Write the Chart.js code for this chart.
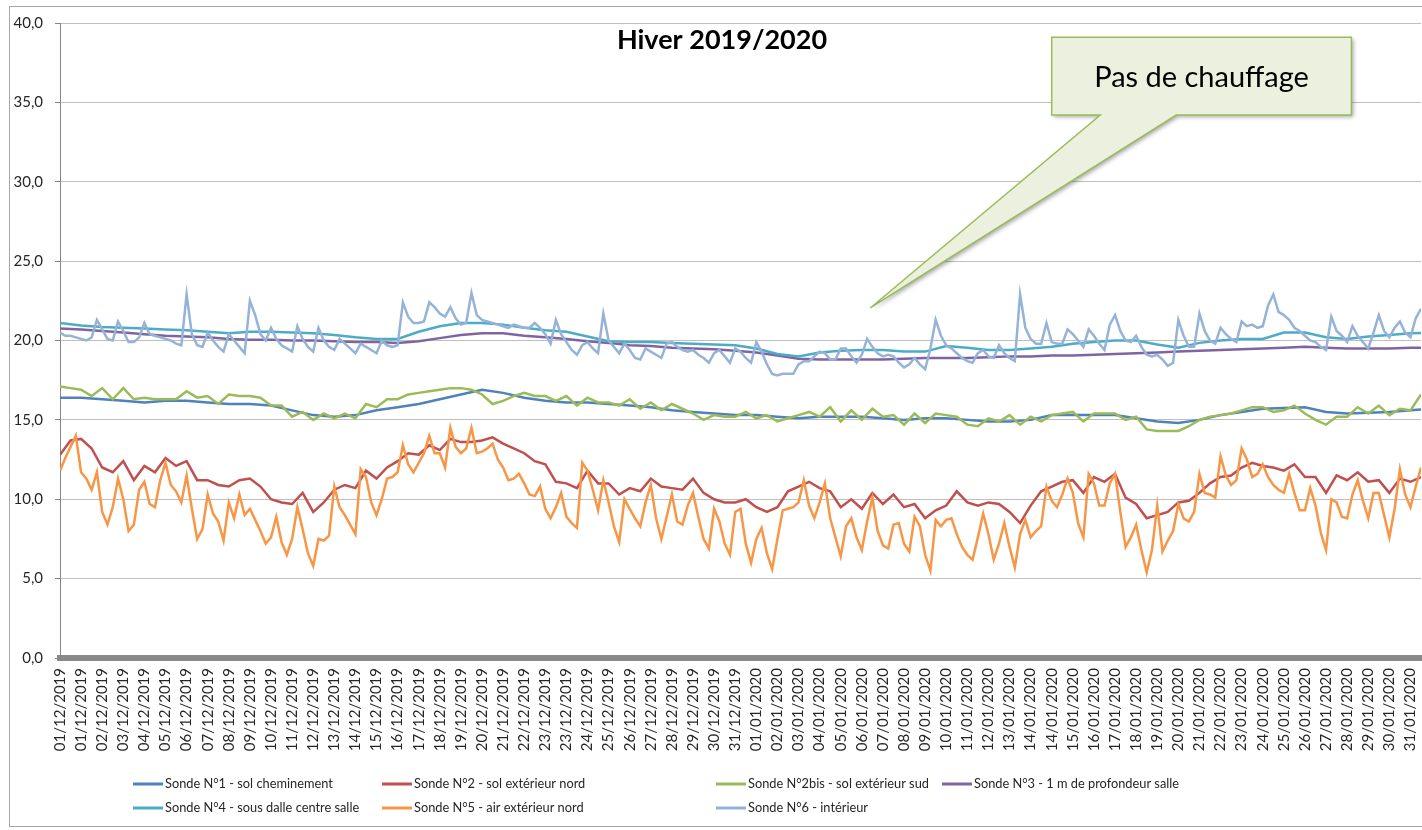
<!DOCTYPE html>
<html lang="fr">
<head>
<meta charset="utf-8">
<title>Hiver 2019/2020</title>
<script src="https://cdn.jsdelivr.net/npm/chart.js@4.4.1/dist/chart.umd.min.js"></script>
<style>
    html, body { margin: 0; padding: 0; background: #fff; }
    canvas { display: block; }
</style>
</head>
<body>
<canvas id="myChart" width="1422" height="830"></canvas>
<script>
'use strict';

// x axis labels (one every ~day, as shown by the spreadsheet)
let categories = ['01/12/2019', '01/12/2019', '02/12/2019', '03/12/2019', '04/12/2019', '05/12/2019', '06/12/2019', '07/12/2019',
    '08/12/2019', '09/12/2019', '10/12/2019', '11/12/2019', '12/12/2019', '13/12/2019', '14/12/2019', '15/12/2019',
    '16/12/2019', '17/12/2019', '18/12/2019', '19/12/2019', '20/12/2019', '21/12/2019', '22/12/2019', '23/12/2019',
    '23/12/2019', '24/12/2019', '25/12/2019', '26/12/2019', '27/12/2019', '28/12/2019', '29/12/2019', '30/12/2019',
    '31/12/2019', '01/01/2020', '02/01/2020', '03/01/2020', '04/01/2020', '05/01/2020', '06/01/2020', '07/01/2020',
    '08/01/2020', '09/01/2020', '10/01/2020', '11/01/2020', '12/01/2020', '13/01/2020', '14/01/2020', '14/01/2020',
    '15/01/2020', '16/01/2020', '17/01/2020', '18/01/2020', '19/01/2020', '20/01/2020', '21/01/2020', '22/01/2020',
    '23/01/2020', '24/01/2020', '25/01/2020', '26/01/2020', '27/01/2020', '28/01/2020', '29/01/2020', '30/01/2020',
    '31/01/2020'];

let yTickLabels = ['0,0', '5,0', '10,0', '15,0', '20,0', '25,0', '30,0', '35,0', '40,0'];

let seriesNames = ['Sonde N°1 - sol cheminement', 'Sonde N°2 - sol extérieur nord', 'Sonde N°2bis - sol extérieur sud',
    'Sonde N°3 - 1 m de profondeur salle', 'Sonde N°4 - sous dalle centre salle', 'Sonde N°5 - air extérieur nord',
    'Sonde N°6 - intérieur'];

// one value per label
let sonde1 = [16.4, 16.4, 16.3, 16.2, 16.1, 16.2, 16.2, 16.1, 16.0, 16.0, 15.9, 15.6, 15.3, 15.2, 15.3, 15.6, 15.8,
    16.0, 16.3, 16.6, 16.9, 16.7, 16.4, 16.2, 16.1, 16.1, 16.0, 15.9, 15.8, 15.6, 15.5, 15.4, 15.3,
    15.3, 15.2, 15.1, 15.2, 15.2, 15.2, 15.1, 15.0, 15.1, 15.1, 15.0, 14.9, 14.9, 15.0, 15.3, 15.3,
    15.3, 15.3, 15.1, 14.9, 14.8, 15.0, 15.3, 15.5, 15.7, 15.75, 15.8, 15.5, 15.4, 15.45, 15.5, 15.6, 15.7];

// two values per label
let sonde2 = [12.8, 13.7, 13.8, 13.2, 12.0, 11.7, 12.4, 11.2, 12.1, 11.7, 12.6, 12.1, 12.4, 11.2, 11.2, 10.9, 10.8,
    11.2, 11.3, 10.8, 10.0, 9.8, 9.7, 10.4, 9.2, 9.8, 10.6, 10.9, 10.7, 11.8, 11.3, 12.0, 12.4,
    12.9, 12.8, 13.4, 13.1, 13.8, 13.6, 13.6, 13.7, 13.9, 13.5, 13.2, 12.9, 12.4, 12.2, 11.1, 11.0,
    10.7, 11.8, 11.0, 11.0, 10.3, 10.7, 10.5, 11.3, 10.8, 10.7, 10.6, 11.3, 10.4, 10.0, 9.8, 9.8,
    10.0, 9.5, 9.2, 9.5, 10.5, 10.8, 11.1, 10.7, 10.5, 9.5, 10.0, 9.4, 10.4, 9.7, 10.3, 9.5,
    9.7, 8.8, 9.3, 9.6, 10.5, 9.8, 9.6, 9.8, 9.7, 9.2, 8.5, 9.6, 10.5, 10.8, 11.1, 11.2,
    10.4, 11.4, 11.1, 11.6, 10.1, 9.7, 8.8, 9.0, 9.2, 9.8, 9.9, 10.4, 11.0, 11.4, 11.5, 12.0,
    12.3, 12.1, 12.0, 11.8, 12.2, 11.4, 11.4, 10.4, 11.5, 11.2, 11.7, 11.1, 11.2, 10.4, 11.3, 11.1, 11.4];

let sonde2bis = [17.1, 17.0, 16.9, 16.5, 17.0, 16.3, 17.0, 16.3, 16.4, 16.3, 16.3, 16.3, 16.8, 16.4, 16.5, 16.0, 16.6,
    16.5, 16.5, 16.4, 15.9, 15.9, 15.2, 15.5, 15.0, 15.4, 15.1, 15.4, 15.1, 16.0, 15.8, 16.3, 16.3,
    16.6, 16.7, 16.8, 16.9, 17.0, 17.0, 16.9, 16.6, 16.0, 16.2, 16.5, 16.7, 16.5, 16.5, 16.2, 16.5,
    15.9, 16.4, 16.1, 16.1, 15.9, 16.3, 15.7, 16.1, 15.6, 16.0, 15.7, 15.4, 15.0, 15.3, 15.2, 15.2,
    15.5, 15.1, 15.3, 14.9, 15.1, 15.3, 15.5, 15.2, 15.8, 14.9, 15.6, 15.0, 15.7, 15.2, 15.3, 14.7,
    15.4, 14.8, 15.4, 15.3, 15.2, 14.7, 14.6, 15.1, 14.9, 15.3, 14.7, 15.2, 14.9, 15.3, 15.4, 15.5,
    14.9, 15.4, 15.4, 15.4, 15.0, 15.2, 14.4, 14.3, 14.3, 14.3, 14.6, 15.0, 15.2, 15.3, 15.4, 15.6,
    15.8, 15.8, 15.5, 15.6, 15.9, 15.4, 15.0, 14.7, 15.2, 15.2, 15.8, 15.4, 15.9, 15.3, 15.7, 15.6, 16.6];

// one value per label
let sonde3 = [20.75, 20.7, 20.6, 20.5, 20.4, 20.3, 20.25, 20.2, 20.1, 20.05, 20.05, 20.0, 20.0, 19.95, 19.9, 19.9, 19.85,
    19.95, 20.15, 20.35, 20.45, 20.45, 20.3, 20.2, 20.1, 19.95, 19.85, 19.7, 19.65, 19.55, 19.5, 19.45, 19.35,
    19.25, 19.05, 18.85, 18.8, 18.8, 18.8, 18.8, 18.85, 18.9, 18.9, 18.9, 18.95, 19.0, 19.0, 19.05, 19.05,
    19.1, 19.15, 19.2, 19.25, 19.3, 19.35, 19.4, 19.45, 19.5, 19.55, 19.6, 19.55, 19.5, 19.5, 19.5, 19.55, 19.55];

let sonde4 = [21.1, 20.95, 20.85, 20.8, 20.75, 20.7, 20.65, 20.55, 20.45, 20.55, 20.55, 20.5, 20.45, 20.35, 20.2, 20.1, 20.1,
    20.55, 20.9, 21.1, 21.1, 21.0, 20.8, 20.65, 20.55, 20.25, 19.95, 19.9, 19.9, 19.85, 19.8, 19.75, 19.7,
    19.5, 19.15, 19.0, 19.25, 19.35, 19.4, 19.4, 19.3, 19.3, 19.65, 19.55, 19.4, 19.4, 19.5, 19.6, 19.8,
    19.9, 20.0, 20.0, 19.75, 19.55, 19.85, 20.0, 20.1, 20.1, 20.5, 20.5, 20.2, 20.1, 20.25, 20.35, 20.45, 20.5];

// four values per label
let sonde5 = [11.8,
    12.6, 13.3, 14.0, 11.7, 11.3, 10.6, 11.7, 9.2, 8.4, 9.5, 11.3, 10.0, 8.0, 8.4, 10.6, 11.1,
    9.7, 9.5, 11.2, 12.3, 10.9, 10.5, 9.8, 11.5, 9.4, 7.5, 8.1, 10.3, 9.1, 8.6, 7.4, 9.8,
    8.8, 10.3, 9.0, 9.4, 8.7, 8.0, 7.2, 7.6, 8.9, 7.3, 6.5, 7.5, 9.5, 8.1, 6.6, 5.8,
    7.5, 7.4, 7.7, 10.8, 9.5, 9.0, 8.4, 7.8, 11.9, 11.4, 9.8, 9.0, 10.0, 11.3, 11.4, 11.7,
    13.4, 12.2, 11.7, 12.3, 12.9, 14.0, 12.9, 12.9, 12.0, 14.5, 13.3, 12.9, 13.2, 14.5, 12.9, 13.0,
    13.2, 13.5, 12.5, 12.0, 11.2, 11.3, 11.6, 11.0, 10.3, 10.2, 10.8, 9.4, 8.8, 9.5, 10.4, 8.9,
    8.5, 8.2, 12.3, 11.8, 10.6, 9.3, 11.2, 9.8, 8.3, 7.3, 10.0, 9.4, 8.8, 8.3, 9.8, 10.9,
    8.8, 7.5, 8.9, 10.3, 8.6, 8.4, 9.6, 10.4, 8.9, 7.5, 6.9, 9.4, 8.6, 7.2, 6.5, 9.2,
    9.4, 7.2, 6.0, 7.5, 8.2, 6.6, 5.6, 7.5, 9.3, 9.4, 9.5, 9.8, 11.2, 9.6, 8.8, 9.8,
    11.0, 8.8, 7.6, 6.4, 8.3, 8.8, 7.6, 6.8, 8.6, 10.1, 8.0, 7.1, 6.9, 8.4, 8.5, 7.2,
    6.7, 8.9, 8.3, 6.5, 5.5, 8.7, 8.3, 8.7, 8.8, 7.8, 7.0, 6.5, 6.2, 7.6, 9.1, 7.8,
    6.2, 7.2, 8.5, 7.0, 5.7, 7.8, 8.7, 7.6, 8.0, 8.3, 10.8, 9.9, 9.5, 10.3, 11.3, 10.4,
    8.5, 7.6, 11.6, 11.0, 9.6, 9.6, 11.0, 11.6, 9.2, 7.0, 7.6, 8.4, 6.8, 5.4, 6.8, 9.6,
    6.7, 7.4, 8.0, 9.7, 8.8, 8.6, 9.2, 11.6, 10.4, 10.3, 10.1, 12.7, 11.5, 10.9, 11.2, 13.2,
    12.5, 11.4, 11.6, 12.2, 11.4, 10.9, 10.6, 10.4, 11.6, 10.4, 9.3, 9.3, 10.7, 9.6, 7.9, 6.8,
    10.0, 9.8, 8.9, 8.8, 10.3, 11.2, 9.9, 8.8, 10.4, 10.4, 9.0, 7.6, 9.4, 11.9, 10.3, 9.5,
    10.8, 12.0];

let sonde6 = [20.5,
    20.3, 20.3, 20.2, 20.1, 20.0, 20.2, 21.3, 20.7, 20.1, 20.0, 21.2, 20.6, 19.9, 19.9, 20.2, 21.1,
    20.4, 20.3, 20.2, 20.1, 20.0, 19.8, 19.7, 22.9, 20.4, 19.7, 19.6, 20.5, 20.0, 19.6, 19.3, 20.4,
    20.0, 19.6, 19.2, 22.5, 21.6, 20.4, 20.0, 20.8, 20.1, 19.7, 19.5, 19.3, 20.9, 20.1, 19.6, 19.3,
    20.8, 20.0, 19.6, 19.4, 20.1, 19.8, 19.5, 19.2, 19.8, 19.6, 19.4, 19.2, 20.0, 19.7, 19.6, 19.7,
    22.4, 21.5, 21.1, 21.1, 21.2, 22.4, 22.1, 21.7, 21.5, 22.1, 21.4, 21.0, 21.1, 23.0, 21.6, 21.3,
    21.2, 21.1, 21.0, 20.9, 20.8, 21.0, 20.9, 20.8, 20.8, 21.1, 20.8, 20.4, 19.8, 21.3, 20.4, 19.9,
    19.4, 19.1, 19.7, 19.9, 19.5, 19.2, 21.7, 20.0, 19.6, 19.2, 19.8, 19.4, 18.9, 18.8, 19.5, 19.3,
    19.1, 18.9, 19.8, 19.9, 19.6, 19.4, 19.3, 19.4, 19.1, 18.9, 18.6, 19.2, 19.4, 19.0, 18.6, 19.5,
    19.3, 18.9, 18.6, 19.9, 19.3, 18.5, 17.9, 17.8, 17.9, 17.9, 17.9, 18.5, 18.7, 18.7, 19.0, 19.3,
    19.2, 18.8, 18.8, 19.5, 19.5, 19.0, 18.6, 19.1, 20.1, 19.6, 19.2, 19.0, 19.1, 19.0, 18.6, 18.3,
    18.5, 18.9, 18.5, 18.2, 19.5, 21.3, 20.3, 19.7, 19.5, 19.2, 18.9, 18.7, 18.6, 19.2, 19.4, 19.0,
    18.9, 19.7, 19.2, 18.9, 18.7, 22.9, 20.8, 20.1, 19.8, 19.8, 21.1, 19.9, 19.8, 19.8, 20.7, 20.4,
    20.0, 19.6, 20.7, 20.3, 19.8, 19.4, 21.0, 21.6, 20.6, 20.0, 19.9, 20.3, 19.6, 19.1, 19.0, 19.1,
    18.8, 18.4, 18.6, 21.3, 20.3, 19.6, 19.6, 21.7, 20.6, 20.0, 19.8, 20.8, 20.4, 20.1, 19.9, 21.2,
    20.9, 21.0, 20.8, 20.9, 22.2, 22.9, 21.8, 21.6, 21.3, 20.8, 20.6, 20.3, 20.0, 19.9, 19.6, 19.4,
    21.5, 20.6, 20.3, 19.9, 20.9, 20.3, 19.9, 19.5, 20.5, 21.6, 20.6, 20.2, 20.8, 21.2, 20.5, 20.2,
    21.4, 22.0];

let allSeries = [sonde1, sonde2, sonde2bis, sonde3, sonde4, sonde5, sonde6];
// distance between two readings, in label units
let seriesSteps = [1, 0.5, 0.5, 1, 1, 0.25, 0.25];
let seriesColors = ['#4F81BD', '#C0504D', '#9BBB59', '#8064A2', '#4BACC6', '#F79646', '#95B3D7'];

let chartTitle = 'Hiver 2019/2020';
let callout = { text: 'Pas de chauffage', left: 47.0, right: 61.2, top: 39.1, bottom: 34.2, baseLeft: 49.3, baseRight: 52.9, tipX: 38.4, tipY: 22.05 };

let fontFamily = 'Lato, "Open Sans", sans-serif';
let textColor = '#262626';

let legendColumns = [133, 382, 716, 942];
let legendRows = [784, 808];

function buildDatasets() {
    let datasets = [];
    for (let i = 0; i < allSeries.length; i++) {
        datasets.push({
            label: seriesNames[i],
            data: allSeries[i].map((v, k) => ({ x: k * seriesSteps[i], y: v })),
            borderColor: seriesColors[i],
            backgroundColor: seriesColors[i],
            borderWidth: 2.5,
            pointRadius: 0,
            tension: 0,
            order: allSeries.length - i
        });
    }
    return datasets;
}

let framePlugin = {
    id: 'frame',
    afterDraw(chart) {
        let ctx = chart.ctx;
        ctx.save();
        ctx.strokeStyle = '#A6A6A6';
        ctx.lineWidth = 1;
        ctx.strokeRect(9.5, 6.5, 1430, 820);
        ctx.restore();
    }
};

let titlePlugin = {
    id: 'overlayTitle',
    afterDraw(chart) {
        let ctx = chart.ctx;
        ctx.save();
        ctx.font = 'bold 27px ' + fontFamily;
        ctx.fillStyle = '#000';
        ctx.textAlign = 'center';
        ctx.textBaseline = 'middle';
        ctx.fillText(chartTitle, 722, 40);
        ctx.restore();
    }
};

let calloutPlugin = {
    id: 'callout',
    afterDraw(chart) {
        let x = chart.scales.x;
        let y = chart.scales.y;
        let l = x.getPixelForValue(callout.left);
        let r = x.getPixelForValue(callout.right);
        let t = y.getPixelForValue(callout.top);
        let b = y.getPixelForValue(callout.bottom);
        let ctx = chart.ctx;
        ctx.save();
        ctx.beginPath();
        ctx.moveTo(l, t);
        ctx.lineTo(r, t);
        ctx.lineTo(r, b);
        ctx.lineTo(x.getPixelForValue(callout.baseRight), b);
        ctx.lineTo(x.getPixelForValue(callout.tipX), y.getPixelForValue(callout.tipY));
        ctx.lineTo(x.getPixelForValue(callout.baseLeft), b);
        ctx.lineTo(l, b);
        ctx.closePath();
        ctx.shadowColor = 'rgba(0, 0, 0, 0.35)';
        ctx.shadowBlur = 4;
        ctx.shadowOffsetX = 2;
        ctx.shadowOffsetY = 2;
        ctx.fillStyle = '#EBF1DE';
        ctx.fill();
        ctx.shadowColor = 'transparent';
        ctx.strokeStyle = '#9BBB59';
        ctx.lineWidth = 1.5;
        ctx.lineJoin = 'miter';
        ctx.stroke();
        ctx.font = '29px ' + fontFamily;
        ctx.fillStyle = '#000';
        ctx.textAlign = 'center';
        ctx.textBaseline = 'middle';
        ctx.fillText(callout.text, (l + r) / 2, (t + b) / 2 + 1);
        ctx.restore();
    }
};

let legendPlugin = {
    id: 'gridLegend',
    afterDraw(chart) {
        let ctx = chart.ctx;
        ctx.save();
        ctx.font = '12.8px ' + fontFamily;
        ctx.textBaseline = 'middle';
        ctx.textAlign = 'left';
        chart.data.datasets.forEach(function (ds, i) {
            let lx = legendColumns[i % 4];
            let ly = legendRows[Math.floor(i / 4)];
            ctx.strokeStyle = ds.borderColor;
            ctx.lineWidth = 3;
            ctx.beginPath();
            ctx.moveTo(lx, ly);
            ctx.lineTo(lx + 30, ly);
            ctx.stroke();
            ctx.fillStyle = textColor;
            ctx.fillText(ds.label, lx + 32, ly);
        });
        ctx.restore();
    }
};

let ctx = document.getElementById('myChart').getContext('2d');

let myChart = new Chart(ctx, {
    type: 'line',
    data: {
        datasets: buildDatasets()
    },
    options: {
        responsive: false,
        animation: false,
        devicePixelRatio: 1,
        layout: {
            padding: { left: 10, top: 23, right: 1, bottom: 72 }
        },
        plugins: {
            legend: { display: false },
            tooltip: { enabled: false },
            title: { display: false }
        },
        scales: {
            x: {
                type: 'linear',
                min: 0,
                max: 64.5,
                grid: { display: false, drawTicks: false },
                border: { display: true, color: '#898989', width: 6 },
                afterBuildTicks: function (scale) {
                    scale.ticks = categories.map((c, i) => ({ value: i }));
                },
                afterFit: function (scale) {
                    scale.height = 100;
                    scale.paddingLeft = 0;
                    scale.paddingRight = 0;
                },
                ticks: {
                    autoSkip: false,
                    maxRotation: 90,
                    minRotation: 90,
                    padding: 10,
                    color: textColor,
                    font: { family: fontFamily, size: 15 },
                    callback: function (value) {
                        return categories[value];
                    }
                }
            },
            y: {
                min: 0,
                max: 40,
                grid: { color: '#BFBFBF', tickColor: '#868686', tickLength: 5 },
                border: { color: '#868686', width: 1 },
                afterFit: function (scale) {
                    scale.width = 50;
                },
                ticks: {
                    stepSize: 5,
                    padding: 12,
                    color: textColor,
                    font: { family: fontFamily, size: 15 },
                    callback: function (value) {
                        return yTickLabels[value / 5];
                    }
                }
            }
        }
    },
    plugins: [framePlugin, titlePlugin, calloutPlugin, legendPlugin]
});
</script>
</body>
</html>
